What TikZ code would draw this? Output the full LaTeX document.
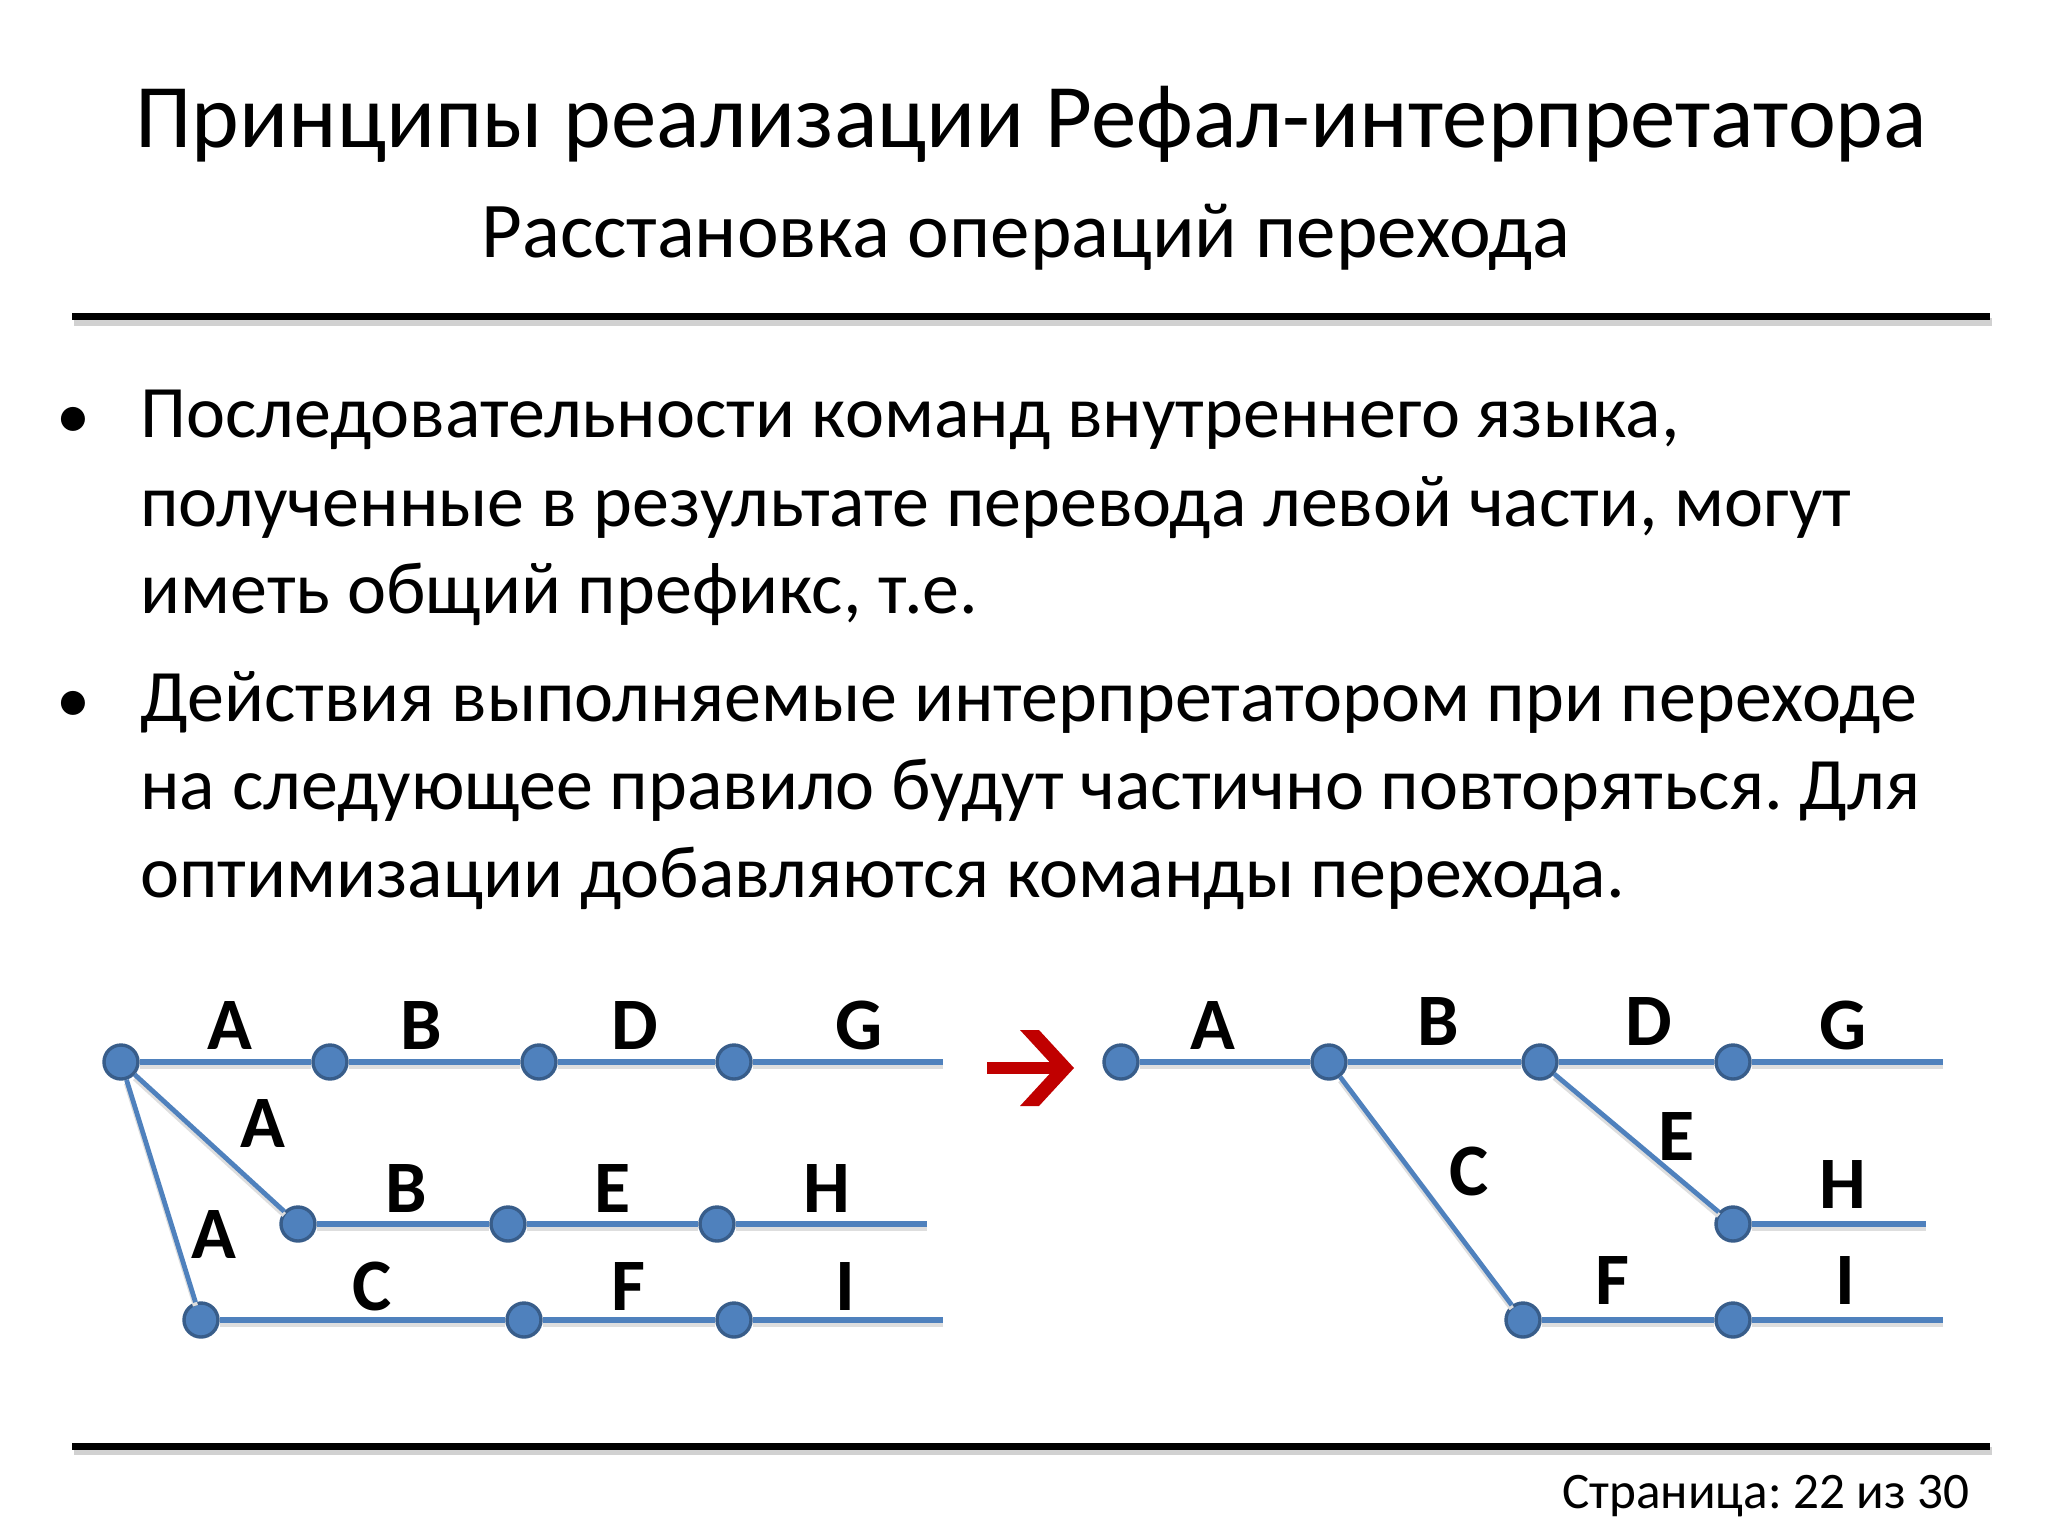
\documentclass[tikz,border=0pt]{standalone}
\usepackage{fontspec}
\setmainfont{Carlito}
\frenchspacing
\definecolor{dotfill}{RGB}{79,129,189}
\definecolor{dotborder}{RGB}{56,93,138}
\definecolor{lineblue}{RGB}{79,129,189}
\definecolor{arrowred}{RGB}{192,0,0}
\begin{document}
\begin{tikzpicture}[x=0.5pt,y=-0.5pt,
  dot/.style={circle, fill=dotfill, draw=dotborder, line width=1.7pt, minimum size=17pt, inner sep=0pt},
  hline/.style={draw=lineblue, line width=2.75pt, preaction={draw=black!13, line width=3pt, transform canvas={yshift=-1.8pt}}},
  dline/.style={draw=lineblue, line width=2.4pt, preaction={draw=black!13, line width=2.6pt, transform canvas={yshift=-1.8pt}}},
  lbl/.style={font=\fontsize{37}{40}\selectfont\bfseries, inner sep=0pt},
  body/.style={font=\fontsize{37}{44}\selectfont, anchor=base west, inner sep=0pt},
  bul/.style={font=\fontsize{34}{38}\selectfont, anchor=base, inner sep=0pt},
  rule/.style={line width=3.5pt, black},
  ruleshadow/.style={line width=4pt, black!18}]
\useasboundingbox (0,0) rectangle (2048,1536);
\fill[white] (0,0) rectangle (2048,1536);

% titles
\node[font=\fontsize{45.4}{50}\selectfont, anchor=base, inner sep=0pt] (title) at (1031,148) {Принципы реализации Рефал-интерпретатора};
\node[font=\fontsize{39.5}{44}\selectfont, anchor=base, inner sep=0pt] (subtitle) at (1026,257) {Расстановка операций перехода};

% rules
\draw[ruleshadow] (74,322) -- (1992,322);
\draw[rule] (72,316) -- (1990,316);
\draw[ruleshadow] (74,1451) -- (1992,1451);
\draw[rule] (72,1446) -- (1990,1446);

% bullets
\node[bul] (b1) at (73,438) {•};
\node[body] (l1) at (140,437) {Последовательности команд внутреннего языка,};
\node[body] (l2) at (140,526) {полученные в результате перевода левой части, могут};
\node[body] (l3) at (140,613) {иметь общий префикс, т.е.};
\node[bul] (b2) at (73,722) {•};
\node[body] (l4) at (140,721) {Действия выполняемые интерпретатором при переходе};
\node[body] (l5) at (140,809) {на следующее правило будут частично повторяться. Для};
\node[body] (l6) at (140,897) {оптимизации добавляются команды перехода.};

% footer
\node[font=\fontsize{25.6}{30}\selectfont, anchor=base east, inner sep=0pt] (footer) at (1970,1508) {Страница: 22 из 30};

% ---------- left diagram ----------
\node[dot] (n0) at (121,1062) {};
\node[dot] (n1) at (330,1062) {};
\node[dot] (n2) at (539,1062) {};
\node[dot] (n3) at (734,1062) {};
\coordinate (e1) at (943,1062);
\node[dot] (n4) at (298,1224) {};
\node[dot] (n5) at (508,1224) {};
\node[dot] (n6) at (717,1224) {};
\coordinate (e2) at (927,1224);
\node[dot] (n7) at (201,1320) {};
\node[dot] (n8) at (524,1320) {};
\node[dot] (n9) at (734,1320) {};
\coordinate (e3) at (943,1320);

\draw[hline] (n0) -- (n1);
\draw[hline] (n1) -- (n2);
\draw[hline] (n2) -- (n3);
\draw[hline] (n3) -- (e1);
\draw[dline] (n0) -- (n4);
\draw[dline] (n0) -- (n7);
\draw[hline] (n4) -- (n5);
\draw[hline] (n5) -- (n6);
\draw[hline] (n6) -- (e2);
\draw[hline] (n7) -- (n8);
\draw[hline] (n8) -- (n9);
\draw[hline] (n9) -- (e3);

\node[lbl] (la1) at (230,1025) {A};
\node[lbl] (lb1) at (421,1025) {B};
\node[lbl] (ld1) at (635,1025) {D};
\node[lbl] (lg1) at (859,1025) {G};
\node[lbl] (la2) at (263,1123) {A};
\node[lbl] (lb2) at (406,1188) {B};
\node[lbl] (le2) at (613,1188) {E};
\node[lbl] (lh2) at (827,1188) {H};
\node[lbl] (la3) at (214,1234) {A};
\node[lbl] (lc3) at (372,1286) {C};
\node[lbl] (lf3) at (628,1286) {F};
\node[lbl] (li3) at (845,1286) {I};

% ---------- red arrow ----------
\fill[arrowred] (987,1062) rectangle (1060,1074);
\fill[arrowred] (1020,1030) -- (1039,1030) -- (1074,1068) -- (1039,1106) -- (1020,1106) -- (1055,1068) -- cycle;

% ---------- right diagram ----------
\node[dot] (m0) at (1121,1062) {};
\node[dot] (m1) at (1329,1062) {};
\node[dot] (m2) at (1540,1062) {};
\node[dot] (m3) at (1733,1062) {};
\coordinate (f1) at (1943,1062);
\node[dot] (m4) at (1733,1224) {};
\coordinate (f2) at (1926,1224);
\node[dot] (m5) at (1523,1320) {};
\node[dot] (m6) at (1733,1320) {};
\coordinate (f3) at (1943,1320);

\draw[hline] (m0) -- (m1);
\draw[hline] (m1) -- (m2);
\draw[hline] (m2) -- (m3);
\draw[hline] (m3) -- (f1);
\draw[dline] (m1) -- (m5);
\draw[dline] (m2) -- (m4);
\draw[hline] (m4) -- (f2);
\draw[hline] (m5) -- (m6);
\draw[hline] (m6) -- (f3);

\node[lbl] (ra1) at (1213,1025) {A};
\node[lbl] (rb1) at (1438,1021) {B};
\node[lbl] (rd1) at (1649,1021) {D};
\node[lbl] (rg1) at (1843,1025) {G};
\node[lbl] (re2) at (1677,1136) {E};
\node[lbl] (rc2) at (1469,1171) {C};
\node[lbl] (rh2) at (1843,1184) {H};
\node[lbl] (rf3) at (1612,1280) {F};
\node[lbl] (ri3) at (1845,1280) {I};
\end{tikzpicture}
\end{document}
